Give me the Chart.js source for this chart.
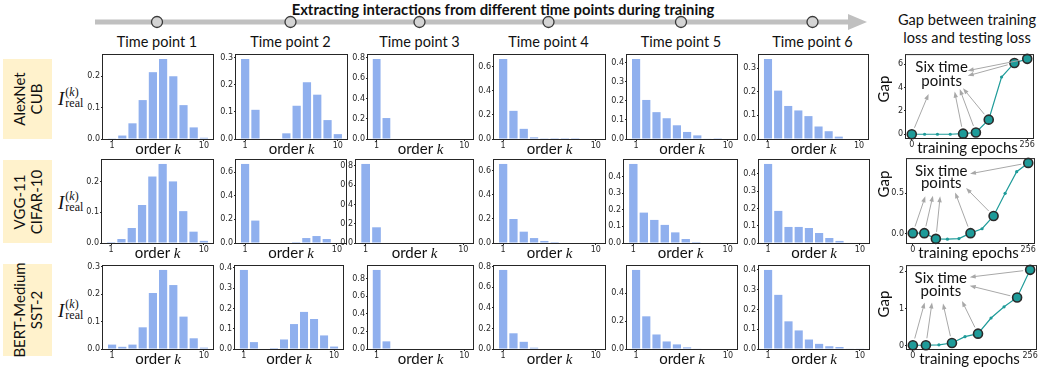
<!DOCTYPE html>
<html>
<head>
<meta charset="utf-8">
<script src="https://cdn.jsdelivr.net/npm/chart.js@4.4.1/dist/chart.umd.min.js"></script>
<style>
  body { margin: 0; width: 1042px; height: 368px; position: relative; background: #fff; overflow: hidden;
         font-family: Lato, 'Open Sans', sans-serif; color: #111; }
  canvas { position: absolute; }
  .txt { position: absolute; white-space: nowrap; transform: translate(-50%, -50%); line-height: 1; }
  .rowbox { position: absolute; background: #fff2cc; }
  .rowbox div { position: absolute; left: 50%; top: 50%; transform: translate(-50%, -50%) rotate(-90deg);
                white-space: nowrap; text-align: center; font-size: 15px; line-height: 17px; }
  .ilab { position: absolute; display: flex; align-items: center; font-family: 'Liberation Serif', serif; white-space: nowrap; }
  .ilab .big { font-style: italic; font-size: 19px; line-height: 1; }
  .ilab .st { display: flex; flex-direction: column; font-size: 12px; line-height: 11px; margin-left: 1px; }
  .math { font-family: 'Liberation Serif', serif; font-style: italic; }
  .vlab { position: absolute; width: 40px; height: 16px; line-height: 16px; text-align: center; font-size: 15px; transform: rotate(-90deg); }
</style>
</head>
<body>
<svg id="timeline" width="1042" height="40" style="position:absolute;left:0;top:0"></svg>
<script>
// ---- data ----
const orders = [1, 2, 3, 4, 5, 6, 7, 8, 9, 10];
const orderTicks = [1, 10];
const timePoints = ['Time point 1', 'Time point 2', 'Time point 3', 'Time point 4', 'Time point 5', 'Time point 6'];

// I_real^(k) per order, six time points per row
const alexnetCub = [
  [0.001, 0.011, 0.05, 0.124, 0.213, 0.255, 0.2, 0.108, 0.037, 0.004],
  [0.296, 0.108, 0.002, 0, 0.021, 0.123, 0.21, 0.164, 0.07, 0.018],
  [0.79, 0.207, 0.005, 0, 0, 0, 0, 0, 0, 0],
  [0.662, 0.233, 0.084, 0.014, 0.002, 0.001, 0.001, 0.001, 0, 0],
  [0.42, 0.205, 0.141, 0.109, 0.072, 0.037, 0.019, 0.003, 0.001, 0],
  [0.339, 0.205, 0.14, 0.121, 0.097, 0.053, 0.033, 0.01, 0.002, 0]
];
const vggCifar = [
  [0.003, 0.013, 0.049, 0.124, 0.217, 0.258, 0.201, 0.104, 0.037, 0.007],
  [0.67, 0.19, 0, 0, 0, 0.008, 0.042, 0.059, 0.034, 0],
  [0.82, 0.163, 0, 0, 0, 0, 0, 0, 0, 0],
  [0.656, 0.199, 0.094, 0.041, 0.017, 0.008, 0, 0, 0, 0],
  [0.476, 0.183, 0.139, 0.109, 0.064, 0.024, 0.006, 0, 0, 0],
  [0.458, 0.186, 0.093, 0.093, 0.087, 0.058, 0.029, 0.012, 0, 0]
];
const bertSst = [
  [0.016, 0.008, 0.016, 0.079, 0.204, 0.288, 0.233, 0.118, 0.039, 0.005],
  [0.39, 0.034, 0, 0.005, 0.047, 0.123, 0.183, 0.148, 0.067, 0.012],
  [0.9, 0.087, 0.005, 0, 0, 0, 0, 0, 0, 0],
  [0.77, 0.153, 0.07, 0.013, 0, 0, 0, 0, 0, 0],
  [0.566, 0.234, 0.104, 0.054, 0.033, 0.012, 0.003, 0, 0, 0],
  [0.4, 0.274, 0.14, 0.094, 0.048, 0.026, 0.014, 0.01, 0.003, 0.002]
];
// y tick step of each bar panel
const alexnetSteps = [0.1, 0.1, 0.2, 0.2, 0.1, 0.1];
const vggSteps = [0.1, 0.2, 0.2, 0.2, 0.1, 0.1];
const bertSteps = [0.1, 0.1, 0.2, 0.2, 0.2, 0.1];

// gap between training and testing loss
const epochTicks = ['0', '256'];
const alexnetGap = [0, 0, 0, 0, 0.05, 0.15, 1.25, 4.9, 6.1, 6.45];
const vggGap = [0.004, 0.004, -0.067, -0.071, -0.063, 0.004, 0.059, 0.218, 0.5, 0.769, 0.878];
const bertGap = [0.02, 0.02, 0.03, 0.08, 0.25, 0.33, 0.75, 1.05, 1.3, 2.04];
const alexnetTimeIdx = [0, 4, 5, 6, 8, 9];
const vggTimeIdx = [0, 1, 2, 5, 7, 10];
const bertTimeIdx = [0, 1, 3, 5, 8, 9];
const alexnetGapTicks = [0, 2, 4, 6];
const vggGapTicks = [0, 0.5];
const bertGapTicks = [0, 1, 2];
const noteLines = ['Six time', 'points'];

// arrows: [point index, head x fraction, head y fraction] ; note: [x frac, line1 y frac, line2 y frac]
const alexnetArrows = [[9, 0.486, 0.188], [8, 0.486, 0.25], [0, 0.178, 0.468], [4, 0.383, 0.44], [5, 0.423, 0.41], [6, 0.449, 0.40]];
const vggArrows = [[10, 0.496, 0.175], [7, 0.465, 0.345], [0, 0.144, 0.444], [1, 0.204, 0.437], [2, 0.261, 0.444], [5, 0.379, 0.397]];
const bertArrows = [[9, 0.486, 0.133], [8, 0.486, 0.237], [0, 0.137, 0.438], [1, 0.194, 0.438], [3, 0.279, 0.45], [5, 0.426, 0.42]];
const alexnetNote = [0.28, 0.14, 0.31];
const vggNote = [0.27, 0.147, 0.286];
const bertNote = [0.262, 0.149, 0.3];

// ---- layout / style ----
const barColor = '#90b0ee';
const teal = '#1e9b99';
const frameColor = '#262626';
const arrowColor = '#a8a8a8';
const tickFont = { family: 'DejaVu Sans', size: 8 };
const PAD_TOP = 6, PAD_RIGHT = 6, Y_AXIS_W = 28, X_AXIS_H = 14, GAP_Y_W = 20;

const barLefts = [[103, 236, 368, 494, 627, 759], [102, 236, 356, 494, 624, 759], [103, 235, 368, 494, 627, 759]];
const barWidths = [[110, 111, 105, 111, 110, 109], [111, 110, 117, 111, 113, 110], [110, 108, 105, 111, 110, 110]];
const rowTops = [55, 160, 266];
const rowHeights = [84, 83, 83];
const gapBoxes = [[906, 55, 127, 83], [907, 159, 127, 84], [907, 266, 129, 83]];

const framePlugin = {
  id: 'frame',
  afterDraw(chart) {
    const { ctx, chartArea: a } = chart;
    ctx.save();
    ctx.strokeStyle = frameColor;
    ctx.lineWidth = 1;
    ctx.strokeRect(a.left - 0.5, a.top - 0.5, a.right - a.left + 1, a.bottom - a.top + 1);
    ctx.restore();
  }
};

function placeCanvas(x, y, w, h) {
  const c = document.createElement('canvas');
  c.width = w; c.height = h;
  c.style.left = x + 'px'; c.style.top = y + 'px';
  document.body.appendChild(c);
  return c;
}

function addText(html, x, y, css) {
  const d = document.createElement('div');
  d.className = 'txt';
  d.innerHTML = html;
  d.style.left = x + 'px'; d.style.top = y + 'px';
  Object.assign(d.style, css || {});
  document.body.appendChild(d);
  return d;
}

function tickGrid() {
  return { display: true, drawOnChartArea: false, drawTicks: true, tickLength: 2, color: frameColor, lineWidth: 1 };
}

function drawBars(values, step, L, T, W, H) {
  const canvas = placeCanvas(L - Y_AXIS_W, T - PAD_TOP, W + Y_AXIS_W + PAD_RIGHT, H + PAD_TOP + X_AXIS_H);
  const ymax = Math.max(...values) * 1.05;
  new Chart(canvas, {
    type: 'bar',
    data: {
      datasets: [{
        data: values.map((v, i) => ({ x: orders[i], y: v })),
        backgroundColor: barColor,
        categoryPercentage: 1,
        barPercentage: 0.8
      }]
    },
    options: {
      responsive: false,
      animation: false,
      layout: { padding: { top: PAD_TOP, right: PAD_RIGHT } },
      plugins: { legend: { display: false }, tooltip: { enabled: false } },
      scales: {
        x: {
          type: 'linear', offset: false, min: 0.11, max: 10.89,
          afterBuildTicks: s => { s.ticks = orderTicks.map(v => ({ value: v })); },
          afterFit: s => { s.height = X_AXIS_H; },
          grid: { ...tickGrid(), offset: false },
          border: { display: false },
          ticks: { font: tickFont, color: frameColor, padding: 0, maxRotation: 0, autoSkip: false, callback: v => String(v) }
        },
        y: {
          min: 0, max: ymax,
          afterBuildTicks: s => {
            const t = [];
            for (let i = 0; i * step <= ymax + 1e-9; i++) t.push({ value: +(i * step).toFixed(3) });
            s.ticks = t;
          },
          afterFit: s => { s.width = Y_AXIS_W; },
          grid: tickGrid(),
          border: { display: false },
          ticks: { font: tickFont, color: frameColor, padding: 1, autoSkip: false, callback: v => v.toFixed(1) }
        }
      }
    },
    plugins: [framePlugin]
  });
}

function notePlugin(arrows, note) {
  return {
    id: 'note',
    afterDatasetsDraw(chart) {
      const { ctx, chartArea: a, scales } = chart;
      const pts = chart.data.datasets[0].data;
      const w = a.right - a.left, h = a.bottom - a.top;
      ctx.save();
      ctx.strokeStyle = arrowColor;
      ctx.fillStyle = arrowColor;
      ctx.lineWidth = 1;
      arrows.forEach(([idx, fx, fy]) => {
        const px = scales.x.getPixelForValue(pts[idx].x);
        const py = scales.y.getPixelForValue(pts[idx].y);
        const hx = a.left + fx * w, hy = a.top + fy * h;
        const ang = Math.atan2(hy - py, hx - px);
        const c = Math.cos(ang), s = Math.sin(ang);
        ctx.beginPath();
        ctx.moveTo(px + c * 7, py + s * 7);
        ctx.lineTo(hx - c * 4, hy - s * 4);
        ctx.stroke();
        ctx.beginPath();
        ctx.moveTo(hx, hy);
        ctx.lineTo(hx - c * 6 - s * 2.2, hy - s * 6 + c * 2.2);
        ctx.lineTo(hx - c * 6 + s * 2.2, hy - s * 6 - c * 2.2);
        ctx.closePath();
        ctx.fill();
      });
      ctx.fillStyle = '#111';
      ctx.font = '15px Lato';
      ctx.textAlign = 'center';
      ctx.textBaseline = 'middle';
      ctx.fillText(noteLines[0], a.left + note[0] * w, a.top + note[1] * h);
      ctx.fillText(noteLines[1], a.left + note[0] * w, a.top + note[2] * h);
      ctx.restore();
    }
  };
}

function drawGap(values, timeIdx, yTicks, decimals, arrows, note, box) {
  const [L, T, W, H] = box;
  const canvas = placeCanvas(L - GAP_Y_W, T - PAD_TOP, W + GAP_Y_W + 12, H + PAD_TOP + X_AXIS_H);
  const n = values.length;
  const lo = Math.min(...values), hi = Math.max(...values), m = (hi - lo) * 0.05;
  const isTime = c => timeIdx.includes(c.dataIndex);
  new Chart(canvas, {
    type: 'line',
    data: {
      datasets: [{
        data: values.map((v, i) => ({ x: i, y: v })),
        borderColor: teal,
        borderWidth: 1.2,
        pointBackgroundColor: teal,
        pointRadius: c => isTime(c) ? 4.5 : 1.6,
        pointBorderWidth: c => isTime(c) ? 1.6 : 0,
        pointBorderColor: c => isTime(c) ? '#2a2a2a' : teal,
        tension: 0,
        clip: false
      }]
    },
    options: {
      responsive: false,
      animation: false,
      layout: { padding: { top: PAD_TOP, right: 12 } },
      plugins: { legend: { display: false }, tooltip: { enabled: false } },
      scales: {
        x: {
          type: 'linear', min: -0.05 * (n - 1), max: (n - 1) * 1.05,
          afterBuildTicks: s => { s.ticks = [{ value: 0 }, { value: n - 1 }]; },
          afterFit: s => { s.height = X_AXIS_H; },
          grid: tickGrid(),
          border: { display: false },
          ticks: { font: tickFont, color: frameColor, padding: 0, maxRotation: 0, autoSkip: false, callback: (v, i) => epochTicks[i] }
        },
        y: {
          min: lo - m, max: hi + m,
          afterBuildTicks: s => { s.ticks = yTicks.map(v => ({ value: v })); },
          afterFit: s => { s.width = GAP_Y_W; },
          grid: tickGrid(),
          border: { display: false },
          ticks: { font: tickFont, color: frameColor, padding: 1, autoSkip: false, callback: v => v.toFixed(decimals) }
        }
      }
    },
    plugins: [framePlugin, notePlugin(arrows, note)]
  });
}

// ---- header: timeline arrow, titles ----
const colCenters = barLefts[0].map((l, i) => l + barWidths[0][i] / 2 - 1);
const svg = document.getElementById('timeline');
let s = '<rect x="95" y="19.5" width="755" height="5" fill="#c0c0c0"/>' +
        '<polygon points="848,14 867,22 848,30" fill="#c0c0c0"/>';
colCenters.forEach(x => {
  s += `<circle cx="${x}" cy="22" r="5.5" fill="#d4d4d4" stroke="#3a3a3a" stroke-width="1.3"/>`;
});
svg.innerHTML = s;
addText('Extracting interactions from different time points during training', 503, 9, { fontWeight: 'bold', fontSize: '14.8px' });
timePoints.forEach((t, i) => addText(t, colCenters[i], 42, { fontSize: '14.5px' }));
addText('Gap between training', 967, 20, { fontSize: '14.6px' });
addText('loss and testing loss', 967, 38, { fontSize: '14.6px' });

// ---- rows ----
const rows = [
  { label: ['AlexNet', 'CUB'], bars: alexnetCub, steps: alexnetSteps, gap: alexnetGap, idx: alexnetTimeIdx,
    ticks: alexnetGapTicks, dec: 0, arrows: alexnetArrows, note: alexnetNote, box: [3, 59, 49, 80], iy: 99, gapY: 89 },
  { label: ['VGG-11', 'CIFAR-10'], bars: vggCifar, steps: vggSteps, gap: vggGap, idx: vggTimeIdx,
    ticks: vggGapTicks, dec: 1, arrows: vggArrows, note: vggNote, box: [3, 160, 49, 83], iy: 203, gapY: 184 },
  { label: ['BERT-Medium', 'SST-2'], bars: bertSst, steps: bertSteps, gap: bertGap, idx: bertTimeIdx,
    ticks: bertGapTicks, dec: 0, arrows: bertArrows, note: bertNote, box: [3, 264, 49, 92], iy: 311, gapY: 304 }
];

rows.forEach((row, r) => {
  const T = rowTops[r], H = rowHeights[r];

  // model / dataset tag
  const b = document.createElement('div');
  b.className = 'rowbox';
  Object.assign(b.style, { left: row.box[0] + 'px', top: row.box[1] + 'px', width: row.box[2] + 'px', height: row.box[3] + 'px' });
  b.innerHTML = `<div>${row.label[0]}<br>${row.label[1]}</div>`;
  document.body.appendChild(b);

  // I_real^(k) label
  const il = document.createElement('div');
  il.className = 'ilab';
  il.style.left = '58px';
  il.style.top = (row.iy - 12) + 'px';
  il.innerHTML = '<span class="big">I</span><span class="st"><span>(<i>k</i>)</span><span>real</span></span>';
  document.body.appendChild(il);

  row.bars.forEach((vals, i) => {
    const L = barLefts[r][i], W = barWidths[r][i];
    drawBars(vals, row.steps[i], L, T, W, H);
    addText('order <span class="math">k</span>', L + W / 2, T + H + 10, { fontSize: '15px' });
  });

  const g = gapBoxes[r];
  drawGap(row.gap, row.idx, row.ticks, row.dec, row.arrows, row.note, g);
  // rotated "Gap" label, whole-pixel box so it stays crisp
  const gl = document.createElement('div');
  gl.className = 'vlab';
  gl.textContent = 'Gap';
  gl.style.left = (883 - 20) + 'px';
  gl.style.top = (row.gapY - 8) + 'px';
  document.body.appendChild(gl);
  addText('training epochs', g[0] + g[2] / 2 - 2, g[1] + g[3] + 9, { fontSize: '15px' });
});
</script>
</body>
</html>
